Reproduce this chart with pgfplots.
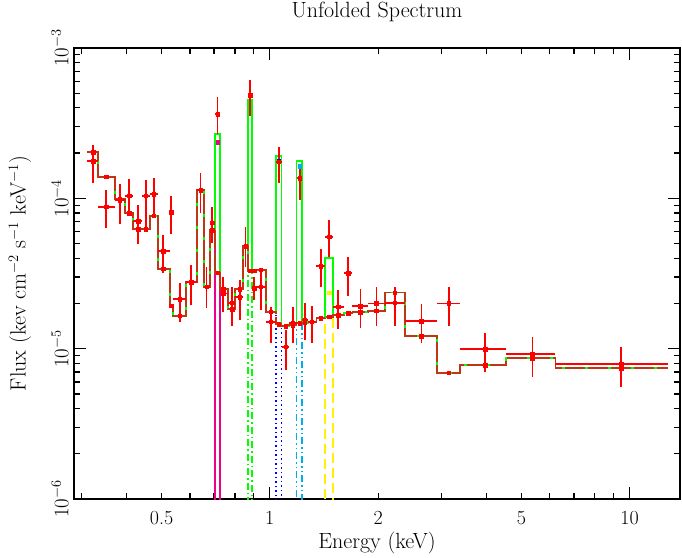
\documentclass[border=0pt]{standalone}
\usepackage{pgfplots}
\pgfplotsset{compat=1.18}
\usepackage{pgfplotstable}
\definecolor{brn}{RGB}{190,55,20}
\pgfplotstableread{
x xl xh y yl yh m
0.3225 0.3109 0.3330 1.763e-4 1.259e-4 2.264e-4 2.033e-4
0.3510 0.3330 0.3704 8.80e-5 6.32e-5 1.136e-4 1.393e-4
0.3824 0.3704 0.3956 9.75e-5 6.75e-5 1.24e-4 9.90e-5
0.4067 0.3956 0.4164 1.041e-4 7.99e-5 1.345e-4 7.95e-5
0.4299 0.4164 0.4410 7.07e-5 4.97e-5 9.03e-5 6.22e-5
0.4523 0.4410 0.4642 1.041e-4 6.48e-5 1.324e-4 6.22e-5
0.4762 0.4642 0.4894 1.069e-4 7.74e-5 1.372e-4 7.66e-5
0.5053 0.4894 0.5264 4.44e-5 3.17e-5 5.70e-5 3.40e-5
0.5318 0.5264 0.5387 8.11e-5 5.79e-5 1.036e-4 1.931e-5
0.5623 0.5387 0.5855 2.14e-5 1.51e-5 2.75e-5 1.657e-5
0.6045 0.5855 0.6283 2.78e-5 1.95e-5 3.60e-5 2.776e-5
0.6419 0.6283 0.6557 1.136e-4 7.99e-5 1.474e-4 1.136e-4
0.6671 0.6557 0.6813 2.58e-5 1.86e-5 3.51e-5 2.584e-5
0.6914 0.6813 0.7035 6.88e-5 5.02e-5 8.80e-5 6.16e-5
0.7157 0.7035 0.7264 3.64e-4 2.68e-4 4.70e-4 3.20e-5
0.7419 0.7264 0.7659 2.33e-5 1.76e-5 3.01e-5 2.482e-5
0.7857 0.7659 0.7993 2.02e-5 1.415e-5 2.58e-5 1.827e-5
0.8254 0.7993 0.8429 2.20e-5 1.55e-5 2.86e-5 2.482e-5
0.8560 0.8429 0.8703 4.82e-5 3.51e-5 6.48e-5 4.82e-5
0.8817 0.8703 0.8913 4.87e-4 3.53e-4 6.12e-4 3.30e-5
0.9045 0.8913 0.9184 2.52e-5 2.11e-5 3.01e-5 3.30e-5
0.9441 0.9184 0.9747 2.58e-5 1.81e-5 3.25e-5 3.35e-5
1.0064 0.9747 1.0391 1.51e-5 1.086e-5 1.90e-5 1.762e-5
1.0593 1.0391 1.0777 1.752e-4 1.259e-4 2.205e-4 1.452e-5
1.1076 1.0777 1.1293 1.030e-5 7.21e-6 1.331e-5 1.415e-5
1.1585 1.1293 1.1863 1.475e-5 1.086e-5 1.90e-5 1.437e-5
1.2115 1.1863 1.2298 1.359e-4 9.75e-5 1.666e-4 1.475e-5
1.2510 1.2298 1.2776 1.55e-5 1.142e-5 2.01e-5 1.489e-5
1.3077 1.2776 1.3479 1.51e-5 1.086e-5 1.93e-5 1.512e-5
1.3857 1.3479 1.4216 3.55e-5 2.57e-5 4.60e-5 1.592e-5
1.4613 1.4216 1.4990 5.56e-5 4.05e-5 7.18e-5 1.632e-5
1.5477 1.4990 1.6083 1.90e-5 1.345e-5 2.46e-5 1.675e-5
1.6504 1.6083 1.6969 3.17e-5 2.24e-5 4.09e-5 1.718e-5
1.7862 1.6969 1.8755 1.92e-5 1.372e-5 2.49e-5 1.753e-5
1.9790 1.8755 2.0865 2.00e-5 1.415e-5 2.58e-5 1.788e-5
2.2244 2.0865 2.3714 2.02e-5 1.415e-5 2.58e-5 2.363e-5
2.6386 2.3714 2.9102 1.53e-5 1.086e-5 1.98e-5 1.214e-5
3.1429 2.9102 3.3713 2.00e-5 1.415e-5 2.58e-5 6.92e-6
3.9637 3.3713 4.5445 9.95e-6 7.03e-6 1.277e-5 7.79e-6
5.3671 4.5445 6.2196 9.21e-6 6.51e-6 1.190e-5 8.63e-6
9.483 6.2196 12.78 7.87e-6 5.58e-6 1.021e-5 7.40e-6
}\spec
\pgfplotstableread{
e c t
0.3109 2.033e-4 2.033e-4
0.3330 1.393e-4 1.393e-4
0.3704 9.90e-5 9.90e-5
0.3956 7.95e-5 7.95e-5
0.4164 6.22e-5 6.22e-5
0.4410 6.22e-5 6.22e-5
0.4642 7.66e-5 7.66e-5
0.4894 3.40e-5 3.40e-5
0.5264 1.931e-5 1.931e-5
0.5387 1.657e-5 1.657e-5
0.5855 2.776e-5 2.776e-5
0.6283 1.136e-4 1.136e-4
0.6557 2.584e-5 2.584e-5
0.6813 6.16e-5 6.16e-5
0.7035 3.20e-5 2.666e-4
0.7264 2.482e-5 2.482e-5
0.7659 1.827e-5 1.827e-5
0.7993 2.482e-5 2.482e-5
0.8429 4.82e-5 4.82e-5
0.8703 3.30e-5 4.51e-4
0.8913 3.30e-5 3.30e-5
0.9184 3.35e-5 3.35e-5
0.9747 1.762e-5 1.762e-5
1.0391 1.452e-5 1.912e-4
1.0777 1.415e-5 1.415e-5
1.1293 1.437e-5 1.437e-5
1.1863 1.475e-5 1.779e-4
1.2298 1.489e-5 1.489e-5
1.2776 1.512e-5 1.512e-5
1.3479 1.592e-5 1.592e-5
1.4216 1.632e-5 4.03e-5
1.4990 1.675e-5 1.675e-5
1.6083 1.718e-5 1.718e-5
1.6969 1.753e-5 1.753e-5
1.8755 1.788e-5 1.788e-5
2.0865 2.363e-5 2.363e-5
2.3714 1.214e-5 1.214e-5
2.9102 6.92e-6 6.92e-6
3.3713 7.79e-6 7.79e-6
4.5445 8.63e-6 8.63e-6
6.2196 7.40e-6 7.40e-6
12.78 7.40e-6 7.40e-6
}\model
\begin{document}
\begin{tikzpicture}
\begin{axis}[
  at={(74pt,58pt)}, anchor=south west, scale only axis,
  width=606pt, height=451pt,
  xmode=log, ymode=log,
  xmin=0.2856, xmax=13.8, ymin=1e-6, ymax=1e-3,
  axis line style={line width=1.4pt},
  every tick/.style={black, line width=1.2pt},
  major tick length=12pt, minor tick length=6pt,
  xtick={1,10}, xticklabels={1,10},
  minor xtick={0.3,0.4,0.6,0.7,0.8,0.9,3,4,6,7,8,9},
  extra x ticks={0.5,2,5}, extra x tick labels={0.5,2,5},
  extra x tick style={major tick length=6pt},
  ytick={1e-6,1e-5,1e-4,1e-3},
  minor ytick={2e-6,3e-6,4e-6,5e-6,6e-6,7e-6,8e-6,9e-6,2e-5,3e-5,4e-5,5e-5,6e-5,7e-5,8e-5,9e-5,2e-4,3e-4,4e-4,5e-4,6e-4,7e-4,8e-4,9e-4},
  tick label style={font=\fontsize{20}{24}\selectfont},
  xticklabel style={yshift=-9pt},
  yticklabel style={rotate=90, anchor=south, yshift=2pt},
  title={Unfolded Spectrum},
  title style={font=\fontsize{22}{26}\selectfont, at={(rel axis cs:0.5,1)}, anchor=center, yshift=30pt},
  xlabel={Energy (keV)},
  xlabel style={font=\fontsize{22}{26}\selectfont, at={(rel axis cs:0.5,0)}, anchor=center, yshift=-44pt},
  ylabel={Flux (kev cm$^{-2}$ s$^{-1}$ keV$^{-1}$)},
  ylabel style={font=\fontsize{22}{26}\selectfont, at={(rel axis cs:0,0.5)}, anchor=center, yshift=54pt},
]
% line components
\addplot[magenta, line width=1.6pt] coordinates {(0.7035,1e-7) (0.7035,2.359e-4) (0.7264,2.359e-4) (0.7264,1e-7)};
\addplot[green, line width=1.6pt, dash pattern=on 7pt off 3pt on 1.5pt off 3pt] coordinates {(0.8703,1e-7) (0.8703,4.18e-4) (0.8913,4.18e-4) (0.8913,1e-7)};
\addplot[blue, line width=1.6pt, dash pattern=on 1.5pt off 3pt] coordinates {(1.0391,1e-7) (1.0391,1.779e-4) (1.0777,1.779e-4) (1.0777,1e-7)};
\addplot[cyan, line width=1.6pt, dash pattern=on 7pt off 3pt on 1.5pt off 3pt on 1.5pt off 3pt] coordinates {(1.1863,1e-7) (1.1863,1.641e-4) (1.2298,1.641e-4) (1.2298,1e-7)};
\addplot[yellow, line width=1.6pt, dash pattern=on 10pt off 5pt] coordinates {(1.4216,1e-7) (1.4216,2.356e-5) (1.4990,2.356e-5) (1.4990,1e-7)};
\addplot[only marks, mark=square*, mark size=1.8pt, magenta] coordinates {(0.7157,2.359e-4)};
\addplot[only marks, mark=square*, mark size=1.8pt, blue] coordinates {(1.0593,1.779e-4)};
\addplot[only marks, mark=square*, mark size=1.8pt, cyan] coordinates {(1.2115,1.641e-4)};
\addplot[only marks, mark=square*, mark size=1.8pt, yellow] coordinates {(1.4613,2.356e-5)};
% total model
\addplot[green, line width=1.9pt, const plot mark left] table[x=e, y=t] {\model};
% continuum model
\addplot[brn, line width=1.9pt, const plot mark left, dash pattern=on 20pt off 3pt] table[x=e, y=c] {\model};
\addplot[only marks, mark=square*, mark size=1.8pt, red] table[x=x, y=m] {\spec};
% data
\addplot[red, only marks, mark=square*, mark size=1.8pt,
  error bars/.cd, x dir=both, x explicit, y dir=both, y explicit,
  error bar style={red, line width=1.8pt}, error mark=none]
  table[x=x, y=y,
    x error plus expr=\thisrow{xh}-\thisrow{x},
    x error minus expr=\thisrow{x}-\thisrow{xl},
    y error plus expr=\thisrow{yh}-\thisrow{y},
    y error minus expr=\thisrow{y}-\thisrow{yl}] {\spec};
\end{axis}
\pgfresetboundingbox
\path[use as bounding box] (0,0) rectangle (682pt,557pt);
\end{tikzpicture}
\end{document}
